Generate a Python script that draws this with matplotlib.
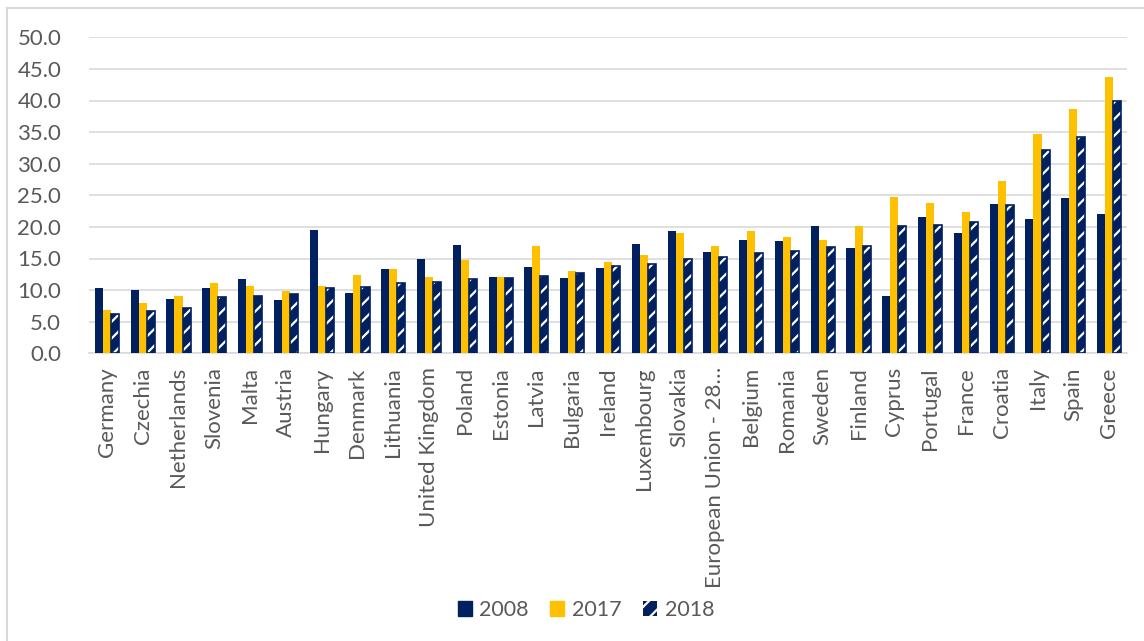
import numpy as np
import matplotlib.pyplot as plt
from matplotlib.lines import Line2D
from matplotlib.patches import Patch

countries = ["Germany", "Czechia", "Netherlands", "Slovenia", "Malta", "Austria",
             "Hungary", "Denmark", "Lithuania", "United Kingdom", "Poland", "Estonia",
             "Latvia", "Bulgaria", "Ireland", "Luxembourg", "Slovakia",
             "European Union - 28\u2026", "Belgium", "Romania", "Sweden", "Finland",
             "Cyprus", "Portugal", "France", "Croatia", "Italy", "Spain", "Greece"]
val_2008 = [10.4, 10.0, 8.6, 10.4, 11.7, 8.5, 19.5, 9.5, 13.3, 15.0, 17.2, 12.0,
            13.7, 11.9, 13.5, 17.3, 19.3, 16.0, 18.0, 17.7, 20.2, 16.6,
            9.0, 21.6, 19.1, 23.6, 21.2, 24.5, 22.0]
val_2017 = [6.8, 7.9, 9.0, 11.2, 10.6, 9.9, 10.7, 12.4, 13.3, 12.1, 14.8, 12.1,
            17.0, 13.0, 14.5, 15.6, 19.0, 16.9, 19.4, 18.4, 17.9, 20.1,
            24.7, 23.8, 22.4, 27.3, 34.7, 38.7, 43.7]
val_2018 = [6.2, 6.7, 7.2, 8.9, 9.1, 9.4, 10.3, 10.5, 11.1, 11.3, 11.7, 11.9,
            12.2, 12.7, 13.8, 14.1, 14.9, 15.2, 15.8, 16.2, 16.8, 17.0,
            20.2, 20.3, 20.7, 23.5, 32.2, 34.3, 40.0]

NAVY = "#002060"
GOLD = "#FFC000"
GRID = "#D9D9D9"
TEXT = "#595959"

plt.rcParams["font.family"] = ["Lato", "DejaVu Sans"]
plt.rcParams["hatch.linewidth"] = 1.6

fig = plt.figure(figsize=(11.44, 6.41), dpi=100)
ax = fig.add_axes([89 / 1144, 1 - 353.3 / 641, (1127 - 89) / 1144, (353.3 - 37.3) / 641])

x = np.arange(len(countries))
w = 0.225
ax.bar(x - w, val_2008, w, color=NAVY, zorder=3)
ax.bar(x, val_2017, w, color=GOLD, zorder=3)
# hatched 2018 bars: white stripes on navy, with a navy outline on top
ax.bar(x + w, val_2018, w, color=NAVY, edgecolor="white", hatch="//", linewidth=0, zorder=3)
ax.bar(x + w, val_2018, w, fill=False, edgecolor=NAVY, linewidth=1.2, zorder=4)

ax.set_xlim(-0.5, len(countries) - 0.5)
ax.set_ylim(0, 50)
ax.set_yticks(np.arange(0, 50.1, 5))
ax.set_yticklabels([f"{v:.1f}" for v in np.arange(0, 50.1, 5)])
ax.set_xticks(x)
ax.set_xticklabels(countries, rotation=90)
ax.tick_params(axis="both", length=0, labelsize=16, colors=TEXT)
ax.tick_params(axis="y", pad=20)
ax.tick_params(axis="x", pad=10)
ax.grid(axis="y", color=GRID, linewidth=1.2, zorder=0)
for side in ["top", "right", "left"]:
    ax.spines[side].set_visible(False)
ax.spines["bottom"].set_color(GRID)
ax.spines["bottom"].set_linewidth(1.2)

handles = [Patch(facecolor=NAVY, edgecolor=NAVY),
           Patch(facecolor=GOLD, edgecolor=GOLD),
           Patch(facecolor=NAVY, edgecolor="white", hatch="//", linewidth=0)]
leg = fig.legend(handles, ["2008", "2017", "2018"], loc="center", ncol=3,
                 bbox_to_anchor=(586 / 1144, 1 - 610 / 641), frameon=False,
                 fontsize=15.5, handlelength=0.65, handleheight=0.65,
                 handletextpad=0.35, columnspacing=1.0)
for t in leg.get_texts():
    t.set_color(TEXT)

# chart area border (top and left edges)
fig.add_artist(Line2D([7 / 1144, 1], [1 - 8 / 641, 1 - 8 / 641], color=GRID, linewidth=1.5))
fig.add_artist(Line2D([7 / 1144, 7 / 1144], [0, 1 - 8 / 641], color=GRID, linewidth=1.5))

fig.savefig("out.png", dpi=100)
